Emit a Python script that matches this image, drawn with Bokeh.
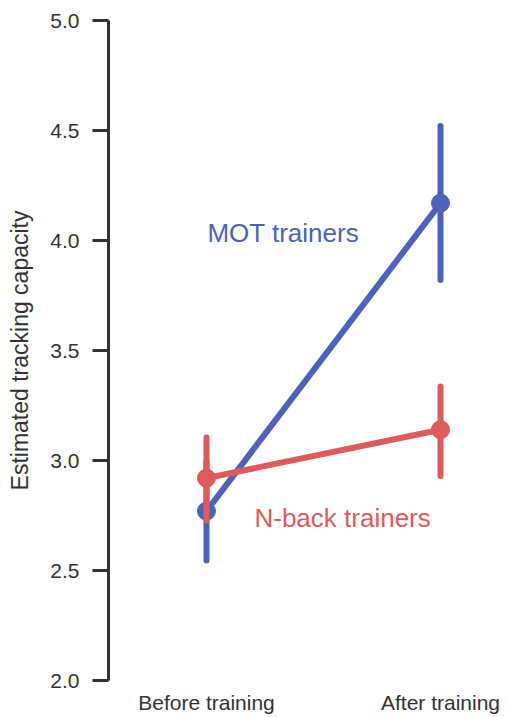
from bokeh.plotting import figure
from bokeh.models import Range1d, FixedTicker, PrintfTickFormatter, ColumnDataSource
from bokeh.core.properties import value
from bokeh.embed import file_html
from bokeh.resources import INLINE

# Session positions and their labels
sessions = [0, 1]
session_labels = ["Before training", "After training"]

# Estimated tracking capacity per group (mean, lower and upper error bounds)
mot_mean = [2.77, 4.17]
mot_lower = [2.545, 3.82]
mot_upper = [2.995, 4.52]

nback_mean = [2.92, 3.14]
nback_lower = [2.727, 2.93]
nback_upper = [3.105, 3.336]

y_ticks = [2.0, 2.5, 3.0, 3.5, 4.0, 4.5, 5.0]

BLUE = "#4c63bd"
RED = "#e05a5a"
INK = "#333333"
FONT = "Liberation Sans"

p = figure(
    width=508, height=717,
    x_range=Range1d(-0.4188, 1.2906), y_range=Range1d(2.0, 5.0),
    min_border_left=108, min_border_right=0, min_border_top=20, min_border_bottom=37,
    output_backend="svg", toolbar_location=None,
    x_axis_location="below", y_axis_location="left",
)
p.outline_line_color = None
p.xgrid.visible = False
p.ygrid.visible = False
p.background_fill_color = "white"
p.border_fill_color = "white"

# Y axis
ya = p.yaxis[0]
ya.ticker = FixedTicker(ticks=y_ticks)
ya.formatter = PrintfTickFormatter(format="%.1f")
ya.axis_line_color = INK
ya.axis_line_width = 3
ya.major_tick_line_color = INK
ya.major_tick_line_width = 3
ya.major_tick_out = 16
ya.major_tick_in = 0
ya.minor_tick_line_color = None
ya.major_label_standoff = 13
ya.major_label_text_font = FONT
ya.major_label_text_font_size = "21px"
ya.major_label_text_color = INK
ya.axis_label = "Estimated tracking capacity"
ya.axis_label_text_font = FONT
ya.axis_label_text_font_size = "23px"
ya.axis_label_text_font_style = "normal"
ya.axis_label_text_color = INK
ya.axis_label_standoff = 14

# X axis: session names only
xa = p.xaxis[0]
xa.ticker = FixedTicker(ticks=sessions)
xa.major_label_overrides = {s: lab for s, lab in zip(sessions, session_labels)}
xa.axis_line_color = None
xa.major_tick_line_color = None
xa.minor_tick_line_color = None
xa.major_tick_out = 0
xa.major_tick_in = 0
xa.major_label_standoff = 10
xa.major_label_text_font = FONT
xa.major_label_text_font_size = "21px"
xa.major_label_text_color = INK


def draw_group(mean, lower, upper, color):
    src = ColumnDataSource(dict(x=sessions, y=mean, lo=lower, hi=upper))
    p.line("x", "y", source=src, line_color=color, line_width=6, line_cap="round")
    p.segment(x0="x", y0="lo", x1="x", y1="hi", source=src,
              line_color=color, line_width=6, line_cap="round")
    p.scatter("x", "y", source=src, size=18, fill_color=color, line_color=color)


draw_group(mot_mean, mot_lower, mot_upper, BLUE)
draw_group(nback_mean, nback_lower, nback_upper, RED)

p.text(x=[0.004], y=[4.036], text=["MOT trainers"], text_color=BLUE,
       text_font=value(FONT), text_font_size="26px",
       text_align="left", text_baseline="alphabetic")
p.text(x=[0.205], y=[2.74], text=["N-back trainers"], text_color=RED,
       text_font=value(FONT), text_font_size="26px",
       text_align="left", text_baseline="alphabetic")

open("out.html", "w").write(file_html(p, INLINE))
